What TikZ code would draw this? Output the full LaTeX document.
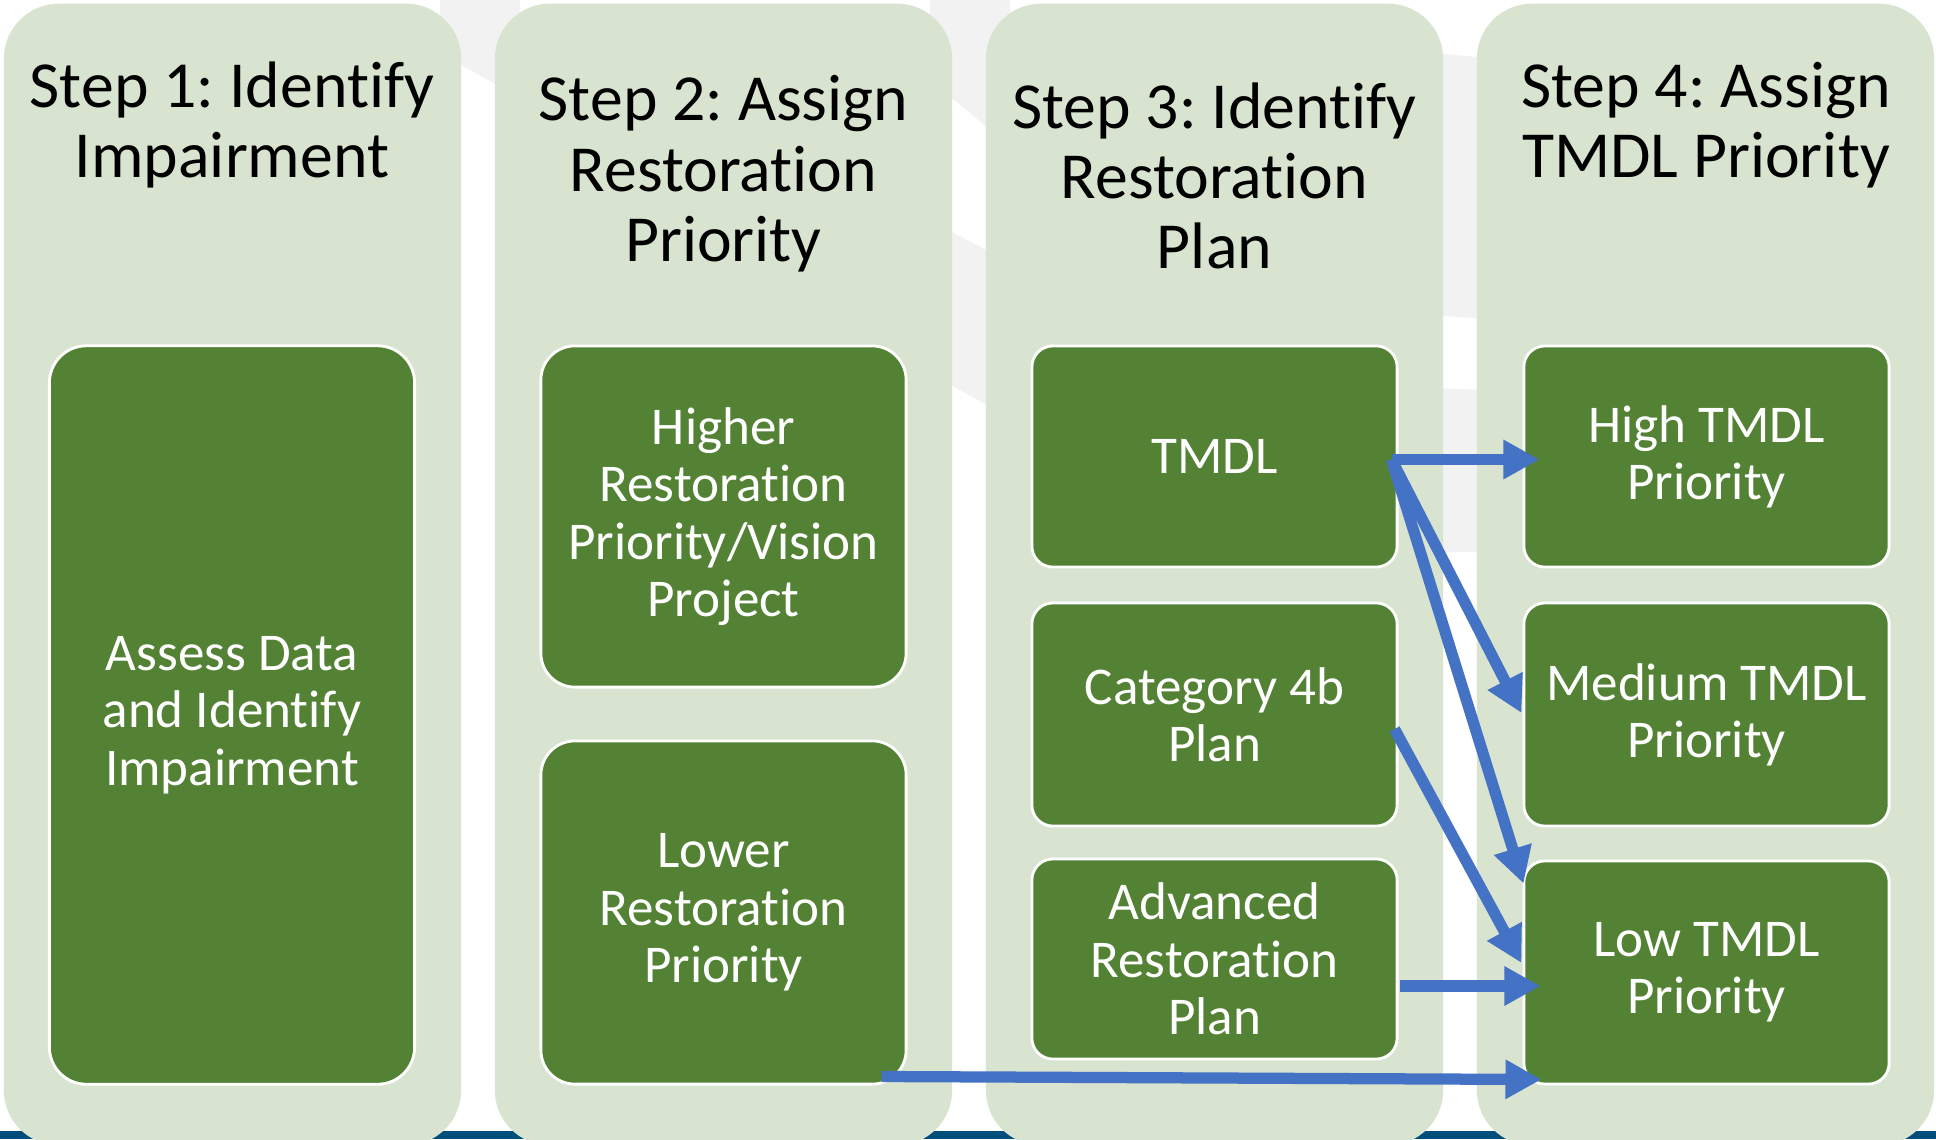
\documentclass[tikz,border=0pt]{standalone}
\usepackage{fontspec}
\setmainfont{Carlito}[Ligatures=NoCommon]
\usetikzlibrary{arrows.meta}
\frenchspacing

\definecolor{colfill}{RGB}{216,228,208}
\definecolor{boxfill}{RGB}{84,130,53}
\definecolor{arrowblue}{RGB}{68,114,196}
\definecolor{stripblue}{RGB}{0,78,124}
\definecolor{swoosh}{RGB}{242,242,242}

\tikzset{
  stepcol/.style={fill=colfill, rounded corners=0.55cm, minimum width=4.57cm, minimum height=11.41cm, inner sep=0pt},
  steptitle/.style={align=center, text=black, font=\fontsize{18.7}{20}\selectfont},
  taskbox/.style={draw=white, line width=0.8pt, fill=boxfill, text=white, align=center, rounded corners=0.21cm,
    font=\fontsize{15.1}{16.3}\selectfont, minimum width=3.65cm, inner sep=0pt},
  flow/.style={draw=arrowblue, line width=3.2pt, -{Triangle[length=0.36cm,width=0.37cm]}}
}

\begin{document}
\begin{tikzpicture}[x=0.01cm, y=-0.01cm]
   \useasboundingbox (0,0) rectangle (1936,1139);
   \clip (0,0) rectangle (1936,1139);
   \fill[white] (0,0) rectangle (1936,1139);

   % faint background bands
   \fill[swoosh] (440,0) -- (520,0) -- (520,98) -- (440,53) -- cycle;
   \fill[swoosh] (930,0) -- (1010,0) -- (1010,146) -- (930,80) -- cycle;
   \fill[swoosh] (930,221) -- (1010,262) -- (1010,418) -- (930,373) -- cycle;
   \fill[swoosh] (1420,52) -- (1500,59) -- (1500,320) -- (1420,314) -- cycle;
   \fill[swoosh] (1420,388) -- (1500,390) -- (1500,552) -- (1420,552) -- cycle;
   \fill[stripblue] (0,1131) rectangle (1936,1139);

   % columns
   \node[stepcol] (col1) at (232.5,574.5) {};
   \node[stepcol] (col2) at (723.5,574.5) {};
   \node[stepcol] (col3) at (1214.5,574.5) {};
   \node[stepcol] (col4) at (1705.5,574.5) {};

   \node[steptitle] (title1) at (232,125) {Step 1: Identify\\Impairment};
   \node[steptitle] (title2) at (723.5,174) {Step 2: Assign\\Restoration\\Priority};
   \node[steptitle] (title3) at (1214.5,176) {Step 3: Identify\\Restoration\\Plan};
   \node[steptitle] (title4) at (1706,125) {Step 4: Assign\\TMDL Priority};

   % boxes
   \node[taskbox, minimum height=7.38cm, rounded corners=0.37cm] (assess) at (232,715) {Assess Data\\and Identify\\Impairment};
   \node[taskbox, minimum height=3.41cm, rounded corners=0.34cm] (higher) at (723.5,516.5) {Higher\\Restoration\\Priority/Vision\\Project};
   \node[taskbox, minimum height=3.43cm, rounded corners=0.34cm] (lower) at (723.5,912.5) {Lower\\Restoration\\Priority};
   \node[taskbox, minimum height=2.21cm] (tmdl) at (1214.5,456.5) {TMDL};
   \node[taskbox, minimum height=2.23cm] (cat4b) at (1214.5,714.5) {Category 4b\\Plan};
   \node[taskbox, minimum height=2.00cm] (advanced) at (1214.5,959) {Advanced\\Restoration\\Plan};
   \node[taskbox, minimum height=2.21cm] (high) at (1706.5,456.5) {High TMDL\\Priority};
   \node[taskbox, minimum height=2.23cm] (medium) at (1706.5,714.5) {Medium TMDL\\Priority};
   \node[taskbox, minimum height=2.23cm] (low) at (1706.5,972.5) {Low TMDL\\Priority};

   \coordinate (tmdlout) at ([shift={(-7,3)}]tmdl.east);

   \draw[flow] (tmdlout) -- ([shift={(17,3)}]high.west);
   \draw[flow] (tmdlout) -- ([shift={(-1,-1.5)}]medium.west);
   \draw[flow] (tmdlout) -- ([shift={(1,24)}]low.north west);
   \draw[flow] ([shift={(-4,14.5)}]cat4b.east) -- ([shift={(-1,-9.5)}]low.west);
   \draw[flow] ([shift={(1,27)}]advanced.east) -- ([shift={(18,13.5)}]low.west);
   \draw[flow] ([shift={(-26,-9)}]lower.south east) -- ([shift={(19,-6)}]low.south west);
 \end{tikzpicture}
\end{document}
